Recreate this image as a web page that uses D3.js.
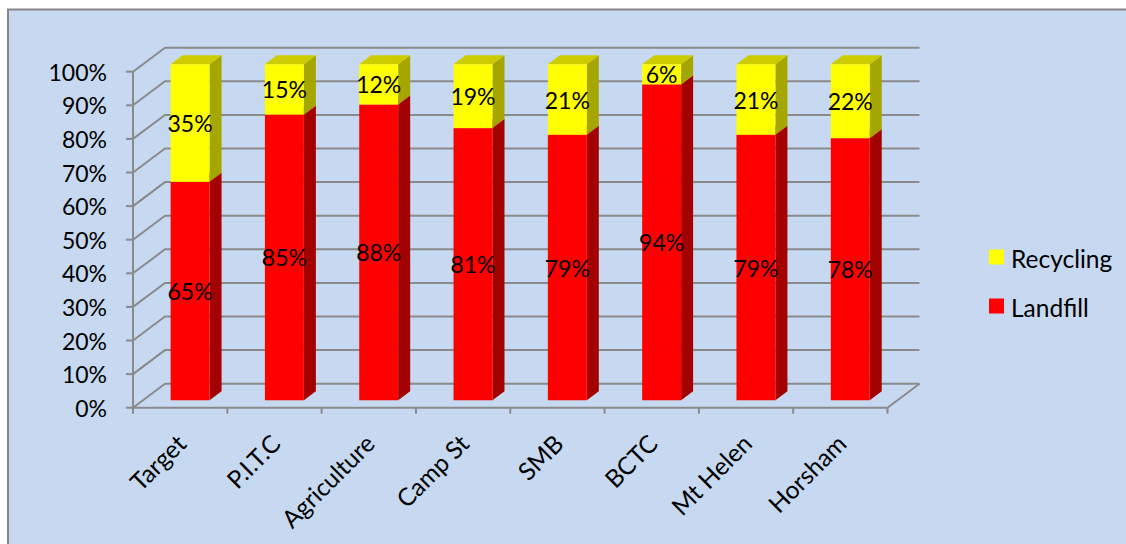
<!DOCTYPE html>
<html>
<head>
<meta charset="utf-8">
<script src="https://cdn.jsdelivr.net/npm/d3@7"></script>
<style>
  html, body { margin: 0; padding: 0; background: #ffffff; }
  svg { display: block; }
  text { font-family: Lato, "Open Sans", sans-serif; fill: #000; }
</style>
</head>
<body>
<svg id="chart" width="1126" height="544"></svg>
<script>
// Waste stream split per site (percent of total)
const categories = ["Target", "P.I.T.C", "Agriculture", "Camp St", "SMB", "BCTC", "Mt Helen", "Horsham"];
const landfill   = [65, 85, 88, 81, 79, 94, 79, 78];
const recycling  = [35, 15, 12, 19, 21, 6, 21, 22];
const yTicks     = [0, 10, 20, 30, 40, 50, 60, 70, 80, 90, 100];
const seriesNames = ["Recycling", "Landfill"];

const svg = d3.select("#chart");
const W = 1126, H = 544;

// frame and plot geometry
const axisLeft = 133, axisRight = 887.5;
const yBottom = 407.7, yTop = 71.7;
const depth = { dx: 32, dy: -24 };        // depth of the 3-D box walls
const barFront = 0.31, barDepth = 0.375;  // bar placement within the depth
const gridColor = "#8a8a8a";
const valueFont = 23, labelFont = 24.5;

// chart area background + border
svg.append("rect").attr("x", 8).attr("y", 9.5).attr("width", W + 20).attr("height", H + 20)
  .attr("fill", "#c6d9f1").attr("stroke", "#888888").attr("stroke-width", 2);

const x = d3.scaleBand().domain(categories).range([axisLeft, axisRight]).paddingInner(0).paddingOuter(0);
const y = d3.scaleLinear().domain([0, 100]).range([yBottom, yTop]);

const walls = svg.append("g").attr("fill", "none").attr("stroke", gridColor).attr("stroke-width", 2);

// back-wall gridlines and side-wall diagonals
yTicks.forEach(v => {
  const yy = y(v);
  walls.append("path").attr("d",
    `M${axisLeft},${yy} L${axisLeft + depth.dx},${yy + depth.dy} L${axisRight + depth.dx},${yy + depth.dy}`);
});
// floor front edge and right edge
walls.append("path").attr("d",
  `M${axisLeft},${yBottom} L${axisRight},${yBottom} L${axisRight + depth.dx},${yBottom + depth.dy}`);
// value axis line
walls.append("line").attr("x1", axisLeft).attr("x2", axisLeft).attr("y1", y(100)).attr("y2", yBottom);

// value axis ticks and labels
yTicks.forEach(v => {
  walls.append("line").attr("x1", axisLeft - 7).attr("x2", axisLeft).attr("y1", y(v)).attr("y2", y(v));
  svg.append("text").attr("x", 107).attr("y", y(v)).attr("text-anchor", "end")
    .attr("dominant-baseline", "central").attr("font-size", valueFont).text(v + "%");
});

// category ticks at band boundaries
const bounds = categories.map(c => x(c)).concat([axisRight]);
bounds.forEach(b => {
  walls.append("line").attr("x1", b).attr("x2", b).attr("y1", yBottom).attr("y2", yBottom + 6);
});

// category labels, rotated
categories.forEach(c => {
  const cx = x(c) + x.bandwidth() / 2 + 1;
  const cy = yBottom + 31;
  svg.append("text").attr("transform", `translate(${cx},${cy}) rotate(-45)`)
    .attr("text-anchor", "end").attr("dominant-baseline", "central")
    .attr("font-size", labelFont).text(c);
});

// 3-D stacked bars
const barW = x.bandwidth() * 0.413;
const fdx = depth.dx * barFront, fdy = depth.dy * barFront;
const sdx = depth.dx * barDepth, sdy = depth.dy * barDepth;

const colors = {
  Landfill:  { front: "#ff0000", side: "#a30000", top: "#cc0000" },
  Recycling: { front: "#ffff00", side: "#a6a600", top: "#cccc00" }
};

function drawBlock(g, x0, y0, y1, col) {
  // x0: left of front face; y0: bottom, y1: top (screen coords on front plane)
  const x1 = x0 + barW;
  g.append("path").attr("fill", col.side)
    .attr("d", `M${x1},${y0} L${x1 + sdx},${y0 + sdy} L${x1 + sdx},${y1 + sdy} L${x1},${y1} Z`);
  g.append("path").attr("fill", col.top)
    .attr("d", `M${x0},${y1} L${x0 + sdx},${y1 + sdy} L${x1 + sdx},${y1 + sdy} L${x1},${y1} Z`);
  g.append("rect").attr("fill", col.front).attr("x", x0).attr("y", y1).attr("width", barW).attr("height", y0 - y1);
}

const bars = svg.append("g");
categories.forEach((c, i) => {
  const g = bars.append("g");
  const x0 = x(c) + (x.bandwidth() - barW) / 2 + fdx;
  const lf = landfill[i], rc = recycling[i];
  const yb = y(0) + fdy, ym = y(lf) + fdy, yt = y(lf + rc) + fdy;
  drawBlock(g, x0, yb, ym, colors.Landfill);
  drawBlock(g, x0, ym, yt, colors.Recycling);
  const lx = x0 + barW / 2;
  g.append("text").attr("x", lx).attr("y", (yb + ym) / 2).attr("text-anchor", "middle")
    .attr("dominant-baseline", "central").attr("font-size", valueFont).text(lf + "%");
  g.append("text").attr("x", lx).attr("y", (ym + yt) / 2).attr("text-anchor", "middle")
    .attr("dominant-baseline", "central").attr("font-size", valueFont).text(rc + "%");
});

// legend
const legend = svg.append("g");
const legendColors = { Recycling: "#ffff00", Landfill: "#ff0000" };
seriesNames.forEach((s, i) => {
  const ly = 257 + i * 49;
  legend.append("rect").attr("x", 989).attr("y", ly - 7.5).attr("width", 15).attr("height", 15)
    .attr("fill", legendColors[s]);
  legend.append("text").attr("x", 1011).attr("y", ly + 1).attr("dominant-baseline", "central")
    .attr("font-size", labelFont).text(s);
});
</script>
</body>
</html>
